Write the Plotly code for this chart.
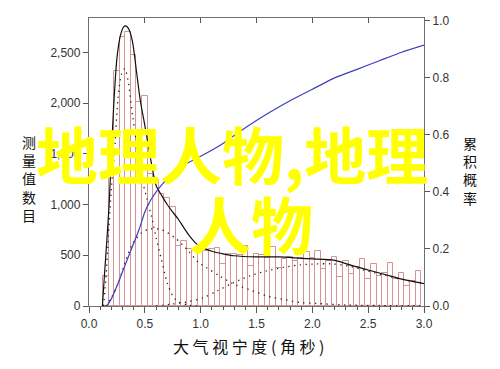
import plotly.graph_objects as go

# ---- data ----
bin_centers = [0.15, 0.20, 0.25, 0.30, 0.35, 0.40, 0.45, 0.50, 0.55, 0.60,
               0.65, 0.70, 0.75, 0.80, 0.85, 0.90, 0.95, 1.00, 1.05, 1.10,
               1.15, 1.20, 1.25, 1.30, 1.35, 1.40, 1.45, 1.50, 1.55, 1.60,
               1.65, 1.70, 1.75, 1.80, 1.85, 1.90, 1.95, 2.00, 2.05, 2.10,
               2.15, 2.20, 2.25, 2.30, 2.35, 2.40, 2.45, 2.50, 2.55, 2.60,
               2.65, 2.70, 2.75, 2.80, 2.85, 2.90, 2.95]
counts = [296, 1550, 2320, 2650, 2700, 2470, 2010, 2065, 1300, 1242,
          1104, 1060, 971, 593, 642, 563, 543, 560, 540, 565,
          576, 415, 514, 510, 500, 593, 395, 510, 505, 470,
          583, 379, 464, 480, 445, 470, 533, 470, 543, 365,
          440, 480, 285, 445, 316, 380, 464, 267, 415, 296,
          330, 425, 267, 328, 198, 247, 346]

fit_x = [0.12, 0.14, 0.16, 0.18, 0.20, 0.22, 0.25, 0.28, 0.31, 0.33, 0.36, 0.39,
         0.43, 0.46, 0.50, 0.56, 0.60, 0.65, 0.70, 0.75, 0.80, 0.85, 0.90, 0.95,
         1.00, 1.10, 1.20, 1.30, 1.50, 1.70, 1.90, 2.00, 2.20, 2.35, 2.50, 2.65,
         2.80, 3.00]
fit_y = [0, 330, 650, 1000, 1480, 1950, 2440, 2660, 2750, 2760, 2720, 2600,
         2270, 2020, 1780, 1400, 1190, 1090, 1000, 925, 855, 770, 690, 625,
         585, 540, 514, 495, 484, 484, 470, 464, 450, 400, 355, 310,
         265, 220]

narrow_x = [0.13, 0.15, 0.18, 0.20, 0.23, 0.26, 0.29, 0.32, 0.35, 0.39, 0.44,
            0.48, 0.52, 0.56, 0.60, 0.65, 0.70, 0.75, 0.80, 0.90, 1.00]
narrow_y = [0, 250, 800, 1150, 1550, 2045, 2280, 2340, 2220, 1877, 1500,
            1230, 1050, 880, 680, 450, 230, 100, 40, 8, 0]

medium_x = [0.15, 0.20, 0.26, 0.32, 0.39, 0.47, 0.55, 0.65, 0.77, 0.89, 0.98,
            1.05, 1.17, 1.29, 1.44, 1.59, 1.74, 1.89, 2.04, 2.30, 2.60, 3.00]
medium_y = [0, 80, 217, 420, 612, 721, 760, 751, 672, 543, 430,
            380, 296, 220, 160, 100, 65, 35, 25, 10, 5, 2]

wide_x = [0.60, 0.75, 0.90, 1.02, 1.15, 1.29, 1.44, 1.59, 1.74, 1.89, 2.04,
          2.18, 2.34, 2.49, 2.64, 2.78, 3.00]
wide_y = [0, 20, 45, 79, 150, 227, 296, 346, 380, 405, 415,
          415, 390, 346, 305, 267, 225]

cdf_x = [0.16, 0.20, 0.25, 0.30, 0.35, 0.40, 0.45, 0.50, 0.55, 0.62, 0.70, 0.80,
         0.90, 1.00, 1.20, 1.40, 1.60, 1.80, 2.00, 2.20, 2.40, 2.60, 2.80, 3.00]
cdf_y = [0, 0.025, 0.07, 0.12, 0.17, 0.22, 0.27, 0.33, 0.37, 0.41, 0.445, 0.48,
         0.505, 0.525, 0.57, 0.625, 0.675, 0.72, 0.76, 0.80, 0.83, 0.86, 0.89, 0.915]

x_ticks = [0.0, 0.5, 1.0, 1.5, 2.0, 2.5, 3.0]
y_ticks = [0, 500, 1000, 1500, 2000, 2500]
y2_ticks = [0.0, 0.2, 0.4, 0.6, 0.8, 1.0]

left_title = "测量值数目"
right_title = "累积概率"
x_title = "大 气 视 宁 度 ( 角 秒 )"
overlay_line1 = "地理人物,地理"
overlay_line2 = "人物"

# ---- figure ----
fig = go.Figure()

fig.add_trace(go.Bar(
    x=bin_centers, y=counts, width=0.05,
    marker=dict(color="rgba(255,255,255,0)", line=dict(color="#d49494", width=1)),
    showlegend=False, hoverinfo="skip"))

dot_style = dict(color="#222222", width=1.3, dash="1.3px,4.5px")
for xs, ys in [(narrow_x, narrow_y), (medium_x, medium_y), (wide_x, wide_y)]:
    fig.add_trace(go.Scatter(x=xs, y=ys, mode="lines", line=dict(shape="spline", smoothing=0.8, **dot_style),
                             showlegend=False, hoverinfo="skip"))

fig.add_trace(go.Scatter(x=fit_x, y=fit_y, mode="lines",
                         line=dict(color="#111111", width=1.2, shape="spline", smoothing=0.8),
                         showlegend=False, hoverinfo="skip"))

fig.add_trace(go.Scatter(x=cdf_x, y=cdf_y, mode="lines", xaxis="x2", yaxis="y2",
                         line=dict(color="#3f3fbf", width=1.2, shape="spline", smoothing=0.6),
                         showlegend=False, hoverinfo="skip"))

tick_font = dict(family="Liberation Sans, Arial, sans-serif", size=12, color="#333333")
axis_common = dict(showline=True, linecolor="#707070", linewidth=1.3, showgrid=False,
                   zeroline=False, tickcolor="#555555", tickfont=tick_font)

fig.update_layout(
    width=500, height=369,
    margin=dict(l=89, r=76, t=18, b=63),
    paper_bgcolor="white", plot_bgcolor="white",
    bargap=0, barmode="overlay",
    xaxis=dict(range=[0, 3], tickvals=x_ticks, tickformat=".1f", ticks="outside", ticklen=6,
               minor=dict(dtick=0.1, ticks="outside", ticklen=3, tickcolor="#555555"),
               anchor="y", **axis_common),
    xaxis2=dict(range=[0, 3], tickvals=[0.5, 1.0, 1.5, 2.0, 2.5], ticks="inside", ticklen=5,
                showticklabels=False, overlaying="x", side="top", anchor="y", **axis_common),
    yaxis=dict(range=[0, 2838], tickvals=y_ticks, tickformat=",d", ticks="outside", ticklen=5,
               anchor="x", **axis_common),
    yaxis2=dict(range=[0, 1.01], tickvals=y2_ticks, tickformat=".1f", ticks="outside", ticklen=5,
                overlaying="y", side="right", anchor="x2", **axis_common),
)

cjk = "Noto Sans CJK SC, sans-serif"
fig.add_annotation(text="<br>".join(left_title), xref="paper", yref="paper",
                   x=-0.179, y=0.444, showarrow=False, xanchor="center", yanchor="middle",
                   font=dict(family=cjk, size=14, color="#111111"))
fig.add_annotation(text="<br>".join(right_title), xref="paper", yref="paper",
                   x=1.137, y=0.469, showarrow=False, xanchor="center", yanchor="middle",
                   font=dict(family=cjk, size=14, color="#111111"))
fig.add_annotation(text=x_title, xref="paper", yref="paper",
                   x=0.478, y=-0.14, showarrow=False, xanchor="center", yanchor="middle",
                   font=dict(family=cjk, size=16, color="#111111"))

fig.add_annotation(text=overlay_line1, xref="paper", yref="paper",
                   x=0.428, y=0.53, showarrow=False, xanchor="center", yanchor="middle",
                   font=dict(family=cjk, size=62, color="#FFFF00", weight="bold"))
fig.add_annotation(text=overlay_line2, xref="paper", yref="paper",
                   x=0.484, y=0.289, showarrow=False, xanchor="center", yanchor="middle",
                   font=dict(family=cjk, size=62, color="#FFFF00", weight="bold"))

fig.write_html("out.html")
